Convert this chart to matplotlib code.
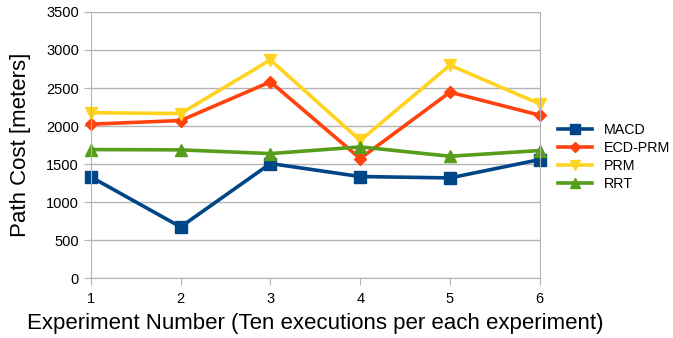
import matplotlib
matplotlib.use("Agg")
import matplotlib.pyplot as plt

plt.rcParams['font.family'] = ['Liberation Sans', 'DejaVu Sans']

experiments = [1, 2, 3, 4, 5, 6]
macd = [1330, 672, 1506, 1335, 1317, 1558]
ecd_prm = [2024, 2072, 2581, 1572, 2445, 2142]
prm = [2175, 2164, 2870, 1810, 2800, 2291]
rrt = [1690, 1686, 1637, 1725, 1602, 1677]

fig = plt.figure(figsize=(6.73, 3.38), dpi=100)
ax = fig.add_axes([0.135, 0.1775, 0.667, 0.787])

ax.plot(experiments, macd, color='#004586', lw=2.6, marker='s', ms=8, label='MACD')
ax.plot(experiments, ecd_prm, color='#ff420e', lw=2.6, marker='D', ms=6, label='ECD-PRM')
ax.plot(experiments, prm, color='#ffd320', lw=2.6, marker='v', ms=8, label='PRM')
ax.plot(experiments, rrt, color='#579d1c', lw=2.6, marker='^', ms=8, label='RRT')

ax.set_xlim(1, 6)
ax.set_ylim(0, 3500)
ax.set_xticks(experiments)
ax.set_yticks(range(0, 3501, 500))
ax.grid(axis='y', color='#b3b3b3', lw=1)
ax.set_axisbelow(True)
for s in ax.spines.values():
    s.set_color('#b3b3b3')
ax.tick_params(colors='#b3b3b3', labelcolor='black', labelsize=10.5, length=5)
ax.tick_params(axis='x', pad=5)

ax.set_xlabel('Experiment Number (Ten executions per each experiment)', fontsize=16, labelpad=5)
ax.set_ylabel('Path Cost [meters]', fontsize=16, labelpad=11)

ax.legend(loc='center left', bbox_to_anchor=(1.018, 0.455), frameon=False, fontsize=10.3,
          handlelength=2.4, labelspacing=0.3, handletextpad=0.85, markerscale=0.85,
          borderpad=0.2)

for line in ax.get_lines():
    line.set_clip_on(False)

fig.savefig('out.png', dpi=100)
